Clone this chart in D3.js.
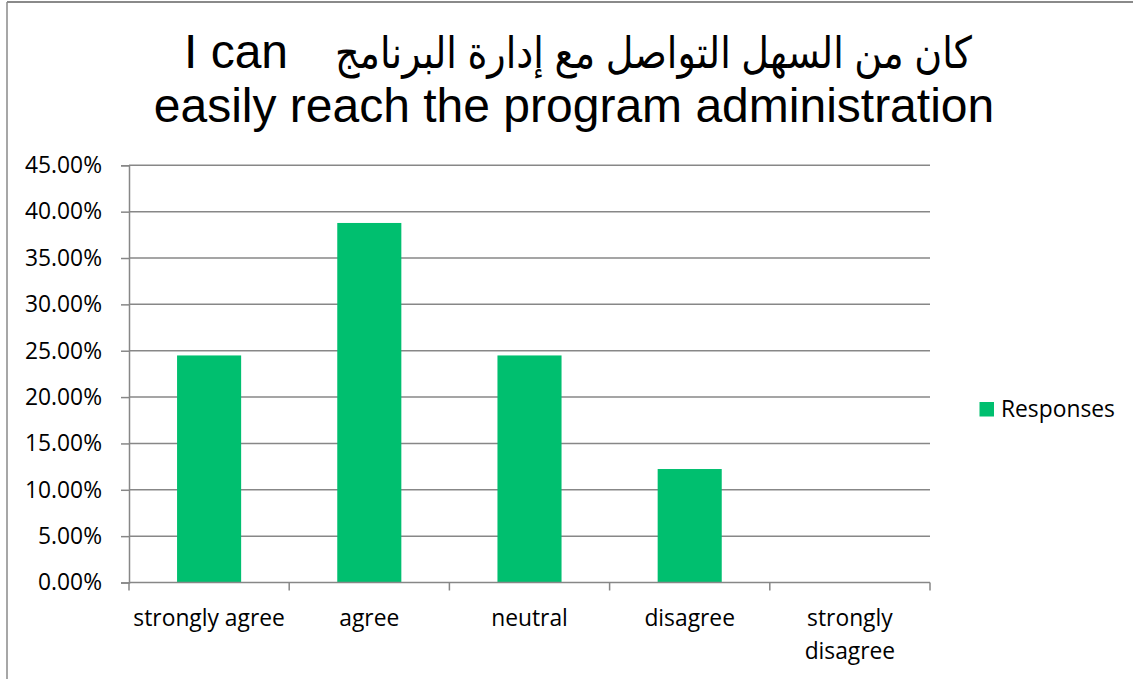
<!DOCTYPE html>
<html>
<head>
<meta charset="utf-8">
<script src="https://cdn.jsdelivr.net/npm/d3@7"></script>
<style>
  html, body { margin: 0; padding: 0; background: #fff; }
  svg { display: block; }
</style>
</head>
<body>
<script>
const titleArabic = "كان من السهل التواصل مع إدارة البرنامج";
const titleLatin1 = "I can";
const titleLatin2 = "easily reach the program administration";
const categories = ["strongly agree", "agree", "neutral", "disagree", "strongly disagree"];
const responses = [0.2449, 0.3878, 0.2449, 0.1224, 0];
const yTicks = [0, 0.05, 0.10, 0.15, 0.20, 0.25, 0.30, 0.35, 0.40, 0.45];
const seriesName = "Responses";

const W = 1133, H = 679;
const barColor = "#00BF6F";
const gridColor = "#878787";
const labelFont = "'Open Sans', sans-serif";

const svg = d3.select("body").append("svg").attr("width", W).attr("height", H);
svg.append("rect").attr("width", W).attr("height", H).attr("fill", "#fff");

// chart border (top & left visible)
svg.append("line").attr("x1", 7).attr("x2", W).attr("y1", 2).attr("y2", 2)
  .attr("stroke", "#8a8a8a").attr("stroke-width", 2);
svg.append("line").attr("x1", 7).attr("x2", 7).attr("y1", 2).attr("y2", H)
  .attr("stroke", "#8a8a8a").attr("stroke-width", 1.5);

// title
const title = svg.append("g").attr("font-family", "'Liberation Sans', Arial, 'DejaVu Sans', sans-serif")
  .attr("fill", "#000");
title.append("text").attr("x", 972).attr("y", 68).attr("text-anchor", "end")
  .attr("font-size", 44).attr("textLength", 637).attr("lengthAdjust", "spacingAndGlyphs")
  .text(titleArabic);
title.append("text").attr("x", 184).attr("y", 68).attr("text-anchor", "start")
  .attr("font-size", 48).text(titleLatin1);
title.append("text").attr("x", 574).attr("y", 122).attr("text-anchor", "middle")
  .attr("font-size", 48).text(titleLatin2);

const x = d3.scaleBand().domain(categories).range([129, 930]).paddingInner(0.6).paddingOuter(0.3);
const y = d3.scaleLinear().domain([0, 0.45]).range([582.5, 165.3]);

// gridlines
svg.append("g").selectAll("line").data(yTicks.filter(d => d > 0)).join("line")
  .attr("x1", 129).attr("x2", 930).attr("y1", d => y(d)).attr("y2", d => y(d))
  .attr("stroke", gridColor).attr("stroke-width", 1.5);

// bars
svg.append("g").selectAll("rect").data(categories.map((c, i) => ({c, v: responses[i]}))).join("rect")
  .attr("x", d => x(d.c)).attr("width", x.bandwidth())
  .attr("y", d => y(d.v)).attr("height", d => y(0) - y(d.v))
  .attr("fill", barColor);

// y axis
const yAxis = svg.append("g").attr("transform", "translate(129,0)")
  .call(d3.axisLeft(y).tickValues(yTicks).tickFormat(d => (d * 100).toFixed(2) + "%").tickSize(8).tickPadding(19));
yAxis.select(".domain").attr("stroke", gridColor).attr("stroke-width", 1.5);
yAxis.selectAll(".tick line").attr("stroke", gridColor).attr("stroke-width", 1.5);
yAxis.selectAll(".tick text").attr("font-family", labelFont).attr("font-size", 22.8).attr("fill", "#000");

// x axis baseline and boundary ticks
const step = x.step();
const gap = step - x.bandwidth();
const bounds = categories.map(c => x(c) - gap / 2).concat([x(categories[categories.length - 1]) + x.bandwidth() + gap / 2]);
svg.append("line").attr("x1", 129).attr("x2", 930).attr("y1", y(0)).attr("y2", y(0))
  .attr("stroke", gridColor).attr("stroke-width", 1.5);
svg.append("g").selectAll("line").data(bounds).join("line")
  .attr("x1", d => d).attr("x2", d => d).attr("y1", y(0)).attr("y2", y(0) + 8)
  .attr("stroke", gridColor).attr("stroke-width", 1.5);

// x labels with wrapping
const xl = svg.append("g").attr("font-family", labelFont).attr("font-size", 22.8).attr("fill", "#000");
categories.forEach(c => {
  const cx = x(c) + x.bandwidth() / 2;
  const t = xl.append("text").attr("x", cx).attr("y", 626).attr("text-anchor", "middle").text(c);
  if (t.node().getComputedTextLength() > step - 4) {
    const words = c.split(" ");
    t.text(null);
    words.forEach((w, i) => {
      t.append("tspan").attr("x", cx).attr("y", 626 + i * 32.5).text(w);
    });
  }
});

// legend
svg.append("rect").attr("x", 979.5).attr("y", 402).attr("width", 14.5).attr("height", 14.5).attr("fill", barColor);
svg.append("text").attr("x", 1001).attr("y", 409).attr("dy", "0.35em")
  .attr("font-family", labelFont).attr("font-size", 22.8).attr("fill", "#000").text(seriesName);
</script>
</body>
</html>
